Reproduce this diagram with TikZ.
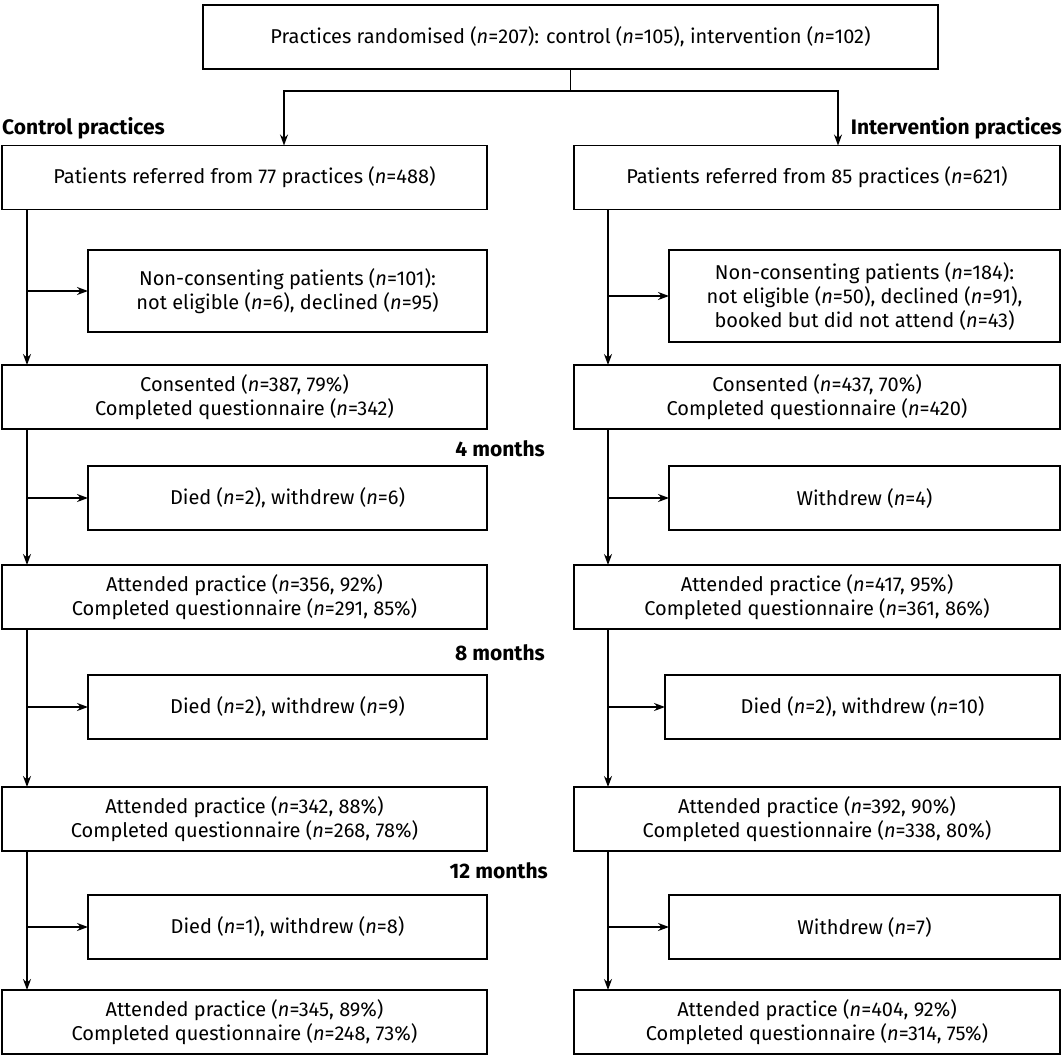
\documentclass[tikz,border=0pt]{standalone}
\usepackage{fontspec}
\setmainfont{Fira Sans}
\usetikzlibrary{arrows.meta}
\begin{document}
\begin{tikzpicture}[x=1pt,y=-1pt,
  every node/.style={font=\fontsize{20}{24}\selectfont},
  box/.style={draw, line width=1.4pt, inner sep=0pt, outer sep=0pt, align=center},
  mainbox/.style={box, minimum width=485pt, minimum height=64pt},
  sidebox/.style={box, minimum height=64pt},
  conn/.style={line width=1.4pt},
  arr/.style={conn, -{Stealth[length=11pt,width=8pt]}},
  head/.style={font=\fontsize{21}{24}\selectfont\bfseries, inner sep=0pt},
]
\useasboundingbox (0,0) rectangle (1064,1056);
\fill[white] (0,0) rectangle (1064,1056);

\node[box, minimum width=735pt, minimum height=64pt] (top) at (570.5,37) {Practices randomised (\textit{n}=207): control (\textit{n}=105), intervention (\textit{n}=102)};

\node[head, anchor=base west] (hl) at (2,135) {Control practices};
\node[head, anchor=base east] (hr) at (1062,135) {Intervention practices};

% left column
\node[mainbox] (l1) at (244.5,177.5) {Patients referred from 77 practices (\textit{n}=488)};
\node[sidebox, minimum width=399pt, minimum height=82pt] (ls1) at (287.5,291) {Non-consenting patients (\textit{n}=101):\\not eligible (\textit{n}=6), declined (\textit{n}=95)};
\node[mainbox] (l2) at (244.5,397) {Consented (\textit{n}=387, 79\%)\\Completed questionnaire (\textit{n}=342)};
\node[sidebox, minimum width=399pt] (ls2) at (287.5,498) {Died (\textit{n}=2), withdrew (\textit{n}=6)};
\node[mainbox] (l3) at (244.5,597) {Attended practice (\textit{n}=356, 92\%)\\Completed questionnaire (\textit{n}=291, 85\%)};
\node[sidebox, minimum width=399pt] (ls3) at (287.5,707) {Died (\textit{n}=2), withdrew (\textit{n}=9)};
\node[mainbox] (l4) at (244.5,819) {Attended practice (\textit{n}=342, 88\%)\\Completed questionnaire (\textit{n}=268, 78\%)};
\node[sidebox, minimum width=399pt] (ls4) at (287.5,927) {Died (\textit{n}=1), withdrew (\textit{n}=8)};
\node[mainbox] (l5) at (244.5,1022) {Attended practice (\textit{n}=345, 89\%)\\Completed questionnaire (\textit{n}=248, 73\%)};

% right column
\node[mainbox, minimum width=486pt] (r1) at (817,177.5) {Patients referred from 85 practices (\textit{n}=621)};
\node[sidebox, minimum width=391pt, minimum height=92pt] (rs1) at (864.5,296) {Non-consenting patients (\textit{n}=184):\\not eligible (\textit{n}=50), declined (\textit{n}=91),\\booked but did not attend (\textit{n}=43)};
\node[mainbox, minimum width=486pt] (r2) at (817,397) {Consented (\textit{n}=437, 70\%)\\Completed questionnaire (\textit{n}=420)};
\node[sidebox, minimum width=391pt] (rs2) at (864.5,498) {Withdrew (\textit{n}=4)};
\node[mainbox, minimum width=486pt] (r3) at (817,597) {Attended practice (\textit{n}=417, 95\%)\\Completed questionnaire (\textit{n}=361, 86\%)};
\node[sidebox, minimum width=395pt] (rs3) at (862.5,707) {Died (\textit{n}=2), withdrew (\textit{n}=10)};
\node[mainbox, minimum width=486pt] (r4) at (817,819) {Attended practice (\textit{n}=392, 90\%)\\Completed questionnaire (\textit{n}=338, 80\%)};
\node[sidebox, minimum width=391pt] (rs4) at (864.5,927) {Withdrew (\textit{n}=7)};
\node[mainbox, minimum width=486pt] (r5) at (817,1022) {Attended practice (\textit{n}=404, 92\%)\\Completed questionnaire (\textit{n}=314, 75\%)};

% time labels
\node[head, anchor=base east] (m4) at (545,456) {4 months};
\node[head, anchor=base east] (m8) at (545,660) {8 months};
\node[head, anchor=base east] (m12) at (548,878) {12 months};

% connectors top
\coordinate (lx) at (27,0);
\coordinate (rx) at (608,0);
\coordinate (ca) at (284,0);
\coordinate (cb) at (838,0);
\coordinate (j) at (570.5,91);
\draw[conn] (top.south) -- (j);
\draw[arr] (j) -| (l1.north -| ca);
\draw[arr] (j) -| (r1.north -| cb);

% left column connectors
\draw[arr] (l1.south -| lx) -- (l2.north -| lx);
\draw[arr] (ls1.west -| lx) -- (ls1.west);
\draw[arr] (l2.south -| lx) -- (l3.north -| lx);
\draw[arr] (ls2.west -| lx) -- (ls2.west);
\draw[arr] (l3.south -| lx) -- (l4.north -| lx);
\draw[arr] (ls3.west -| lx) -- (ls3.west);
\draw[arr] (l4.south -| lx) -- (l5.north -| lx);
\draw[arr] (ls4.west -| lx) -- (ls4.west);

% right column connectors
\draw[arr] (r1.south -| rx) -- (r2.north -| rx);
\draw[arr] (rs1.west -| rx) -- (rs1.west);
\draw[arr] (r2.south -| rx) -- (r3.north -| rx);
\draw[arr] (rs2.west -| rx) -- (rs2.west);
\draw[arr] (r3.south -| rx) -- (r4.north -| rx);
\draw[arr] (rs3.west -| rx) -- (rs3.west);
\draw[arr] (r4.south -| rx) -- (r5.north -| rx);
\draw[arr] (rs4.west -| rx) -- (rs4.west);
\end{tikzpicture}
\end{document}
